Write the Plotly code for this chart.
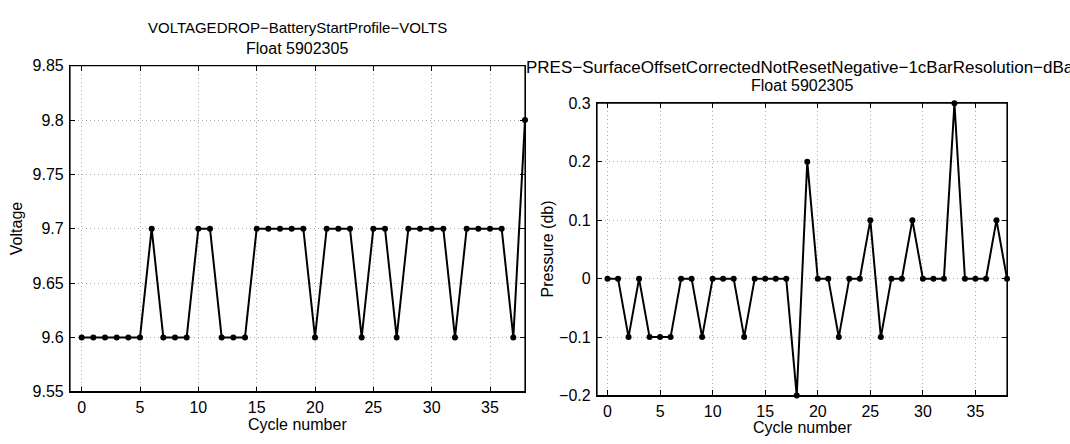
import plotly.graph_objects as go

cycles = list(range(39))
voltage = [9.6, 9.6, 9.6, 9.6, 9.6, 9.6, 9.7, 9.6, 9.6, 9.6,
           9.7, 9.7, 9.6, 9.6, 9.6, 9.7, 9.7, 9.7, 9.7, 9.7,
           9.6, 9.7, 9.7, 9.7, 9.6, 9.7, 9.7, 9.6, 9.7, 9.7,
           9.7, 9.7, 9.6, 9.7, 9.7, 9.7, 9.7, 9.6, 9.8]
pressure = [0, 0, -0.1, 0, -0.1, -0.1, -0.1, 0, 0, -0.1,
            0, 0, 0, -0.1, 0, 0, 0, 0, -0.2, 0.2,
            0, 0, -0.1, 0, 0, 0.1, -0.1, 0, 0, 0.1,
            0, 0, 0, 0.3, 0, 0, 0, 0.1, 0]

x_ticks = [0, 5, 10, 15, 20, 25, 30, 35]
v_ticks = [9.55, 9.6, 9.65, 9.7, 9.75, 9.8, 9.85]
v_ticktext = ["9.55", "9.6", "9.65", "9.7", "9.75", "9.8", "9.85"]
p_ticks = [-0.2, -0.1, 0, 0.1, 0.2, 0.3]
p_ticktext = ["\u22120.2", "\u22120.1", "0", "0.1", "0.2", "0.3"]

title_left = ["VOLTAGEDROP\u2212BatteryStartProfile\u2212VOLTS", "Float 5902305"]
title_right = ["PRES\u2212SurfaceOffsetCorrectedNotResetNegative\u22121cBarResolution\u2212dBar", "Float 5902305"]

W, H = 1070, 444
FONT = "Liberation Sans, Arial, sans-serif"
FS = 16

def px(xp):
    return xp / W

def py(yp):
    return (H - yp) / H

fig = go.Figure()
fig.add_trace(go.Scatter(x=cycles, y=voltage, mode="lines+markers",
                         line=dict(color="black", width=2),
                         marker=dict(color="black", size=6),
                         cliponaxis=False, xaxis="x", yaxis="y", showlegend=False))
fig.add_trace(go.Scatter(x=cycles, y=pressure, mode="lines+markers",
                         line=dict(color="black", width=2),
                         marker=dict(color="black", size=6),
                         cliponaxis=False, xaxis="x2", yaxis="y2", showlegend=False))

axis_common = dict(showline=True, linecolor="black", linewidth=1.2, mirror="ticks",
                   ticks="inside", ticklen=5, tickcolor="black", tickwidth=1,
                   showgrid=True, gridcolor="#a8a8a8", griddash="1px,3px", gridwidth=1,
                   zeroline=False, tickfont=dict(family=FONT, size=FS, color="black"))

fig.update_layout(
    width=W, height=H,
    margin=dict(l=0, r=0, t=0, b=0),
    paper_bgcolor="white", plot_bgcolor="white",
    font=dict(family=FONT, size=FS, color="black"),
    xaxis=dict(domain=[px(70), px(525)], range=[-1, 38], tickvals=x_ticks,
               anchor="y", ticklabelstandoff=1, **axis_common),
    yaxis=dict(domain=[py(399), py(60)], range=[9.55, 9.85], tickvals=v_ticks,
               ticktext=v_ticktext, anchor="x", ticklabelstandoff=2, **axis_common),
    xaxis2=dict(domain=[px(597), px(1007)], range=[-1, 38], tickvals=x_ticks,
                anchor="y2", ticklabelstandoff=1, **axis_common),
    yaxis2=dict(domain=[py(403), py(99)], range=[-0.2, 0.3], tickvals=p_ticks,
                ticktext=p_ticktext, anchor="x2", ticklabelstandoff=2, **axis_common),
)

for xr, yr in (("x domain", "y domain"), ("x2 domain", "y2 domain")):
    fig.add_shape(type="rect", xref=xr, yref=yr, x0=0, x1=1, y0=0, y1=1,
                  line=dict(color="black", width=1.2), layer="above")

ann = []
def add_text(text, xp, yp, angle=0, size=FS):
    ann.append(dict(text=text, x=px(xp), y=py(yp), xref="paper", yref="paper",
                    xanchor="center", yanchor="middle", showarrow=False,
                    textangle=angle, font=dict(family=FONT, size=size, color="black")))

add_text(title_left[0], 297, 20, size=15)
add_text(title_left[1], 297, 42)
add_text(title_right[0], 802, 62, size=17)
add_text(title_right[1], 802, 81)
add_text("Cycle number", 297, 433)
add_text("Cycle number", 802, 436)
add_text("Voltage", 16, 230, -90)
add_text("Pressure (db)", 547, 251, -90)
fig.update_layout(annotations=ann)

fig.write_html("out.html", config={"displayModeBar": False},
               post_script="document.body.style.margin='0';document.body.style.overflow='hidden';")
